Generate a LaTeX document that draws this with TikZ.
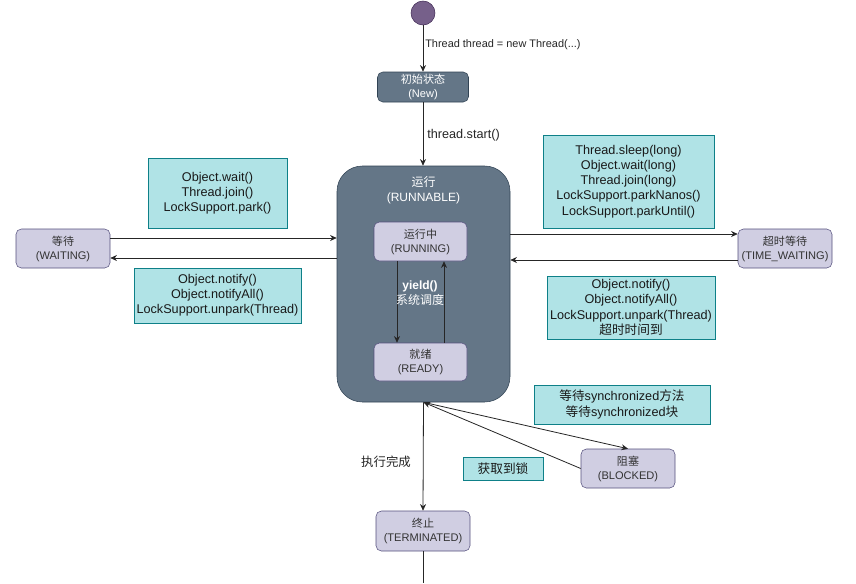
\documentclass[tikz,border=0pt]{standalone}
\usepackage{fontspec}
\setmainfont{Liberation Sans}
\newfontfamily\cjk{Noto Sans CJK SC}
\usetikzlibrary{arrows.meta,calc}
\definecolor{slate}{HTML}{647687}
\definecolor{slateline}{HTML}{314354}
\definecolor{lav}{HTML}{D0CEE2}
\definecolor{lavline}{HTML}{56517E}
\definecolor{cyanf}{HTML}{B0E3E6}
\definecolor{cyanl}{HTML}{0E8088}
\definecolor{purf}{HTML}{76608A}
\definecolor{purl}{HTML}{432D57}
\begin{document}
\begin{tikzpicture}[x=0.75pt,y=-0.75pt,
  state/.style={draw=lavline,fill=lav,rounded corners=4pt,align=center,text=black!80,
    font=\fontsize{8.3}{10.5}\selectfont,inner sep=0pt},
  darkbox/.style={draw=slateline,fill=slate,rounded corners=4pt,align=center,text=white,
    font=\fontsize{8.3}{10.5}\selectfont,inner sep=0pt},
  note/.style={draw=cyanl,fill=cyanf,align=center,text=black!90,
    font=\fontsize{9.5}{11.4}\selectfont,inner sep=0pt},
  smallnote/.style={note,font=\fontsize{9.5}{11.6}\selectfont},
  arr/.style={draw=black!85,line width=0.6pt,-{Stealth[length=5pt,width=4.5pt]}},
  lbl/.style={font=\fontsize{9.5}{11}\selectfont,text=black!85,inner sep=0pt}]
\useasboundingbox (0,0) rectangle (856,583);
\fill[white] (0,0) rectangle (856,583);

% start
\node[circle,draw=purl,fill=purf,minimum size=24*0.75pt,inner sep=0pt] (start) at (423,13) {};
\node[darkbox,minimum width=91*0.75pt,minimum height=30*0.75pt] (new) at (423,87) {{\cjk 初始状态}\\(New)};

% runnable container
\node[darkbox,rounded corners=19pt,minimum width=173*0.75pt,minimum height=236*0.75pt] (run) at (423.5,284) {};
\node[text=white,align=center,font=\fontsize{9}{11.3}\selectfont] (runt) at (423.5,190) {{\cjk 运行}\\(RUNNABLE)};
\node[state,minimum width=93*0.75pt,minimum height=39*0.75pt] (running) at (420.5,241.5) {{\cjk 运行中}\\(RUNNING)};
\node[state,minimum width=93*0.75pt,minimum height=38*0.75pt] (ready) at (420.5,362) {{\cjk 就绪}\\(READY)};
\coordinate (d1) at (397,261);
\coordinate (u1) at (444,343);
\draw[arr] (d1) -- (d1 |- ready.north);
\draw[arr] (u1) -- (u1 |- running.south);
\node[text=white,align=center,font=\fontsize{9}{11}\selectfont] (yl) at (420,293) {\textbf{yield()}\\{\cjk 系统调度}};

\draw[arr] (start) -- (new);
\node[lbl,anchor=west,font=\fontsize{8.2}{10}\selectfont] (l1) at (425,45) {Thread thread = new Thread(...)};
\draw[arr] (new) -- (new |- run.north);
\node[lbl,anchor=west] (l2) at (427,135) {thread.start()};

% waiting
\node[state,minimum width=94*0.75pt,minimum height=39*0.75pt] (wait) at (63,248.5) {{\cjk 等待}\\(WAITING)};
\coordinate (w1) at ($(wait.east)+(0,-10.5)$);
\coordinate (w2) at ($(wait.east)+(0,9.5)$);
\draw[arr] (w1) -- (w1 -| run.west);
\draw[arr] (w2 -| run.west) -- (w2);
\node[note,minimum width=139*0.75pt,minimum height=70*0.75pt] (n1) at (217.5,193) {Object.wait()\\Thread.join()\\LockSupport.park()};
\node[note,minimum width=167*0.75pt,minimum height=55*0.75pt] (n2) at (217.5,295.5) {Object.notify()\\Object.notifyAll()\\LockSupport.unpark(Thread)};

% timed waiting
\node[state,minimum width=94*0.75pt,minimum height=39*0.75pt] (tw) at (785,248.5) {{\cjk 超时等待}\\(TIME\_WAITING)};
\coordinate (t1) at ($(tw.west)+(0,-14.5)$);
\coordinate (t2) at ($(tw.west)+(0,11.5)$);
\draw[arr] (t1 -| run.east) -- (t1);
\draw[arr] (t2) -- (t2 -| run.east);
\node[note,minimum width=171*0.75pt,minimum height=93*0.75pt] (n3) at (628.5,181.5) {Thread.sleep(long)\\Object.wait(long)\\Thread.join(long)\\LockSupport.parkNanos()\\LockSupport.parkUntil()};
\node[note,minimum width=168*0.75pt,minimum height=63*0.75pt] (n4) at (631,307.5) {Object.notify()\\Object.notifyAll()\\LockSupport.unpark(Thread)\\{\cjk 超时时间到}};

% blocked
\node[state,minimum width=94*0.75pt,minimum height=39*0.75pt] (blk) at (628,468.5) {{\cjk 阻塞}\\(BLOCKED)};
\draw[arr] (run.south) -- (blk.north);
\draw[arr] (blk.west) -- (run.south);
\node[smallnote,minimum width=176*0.75pt,minimum height=39*0.75pt] (n5) at (622,404.5) {{\cjk 等待}synchronized{\cjk 方法}\\{\cjk 等待}synchronized{\cjk 块}};
\node[smallnote,minimum width=80*0.75pt,minimum height=23*0.75pt] (n6) at (503,468.5) {\cjk 获取到锁};

% terminated
\node[state,minimum width=94*0.75pt,minimum height=40*0.75pt] (term) at (423,531) {{\cjk 终止}\\(TERMINATED)};
\draw[arr] (run.south) -- (term.north);
\node[lbl,font=\fontsize{9.3}{11}\selectfont\cjk] (l3) at (386,462) {执行完成};
\coordinate (endpt) at (423,583);
\draw[draw=black!85,line width=0.6pt] (term.south) -- (endpt);
\end{tikzpicture}
\end{document}
